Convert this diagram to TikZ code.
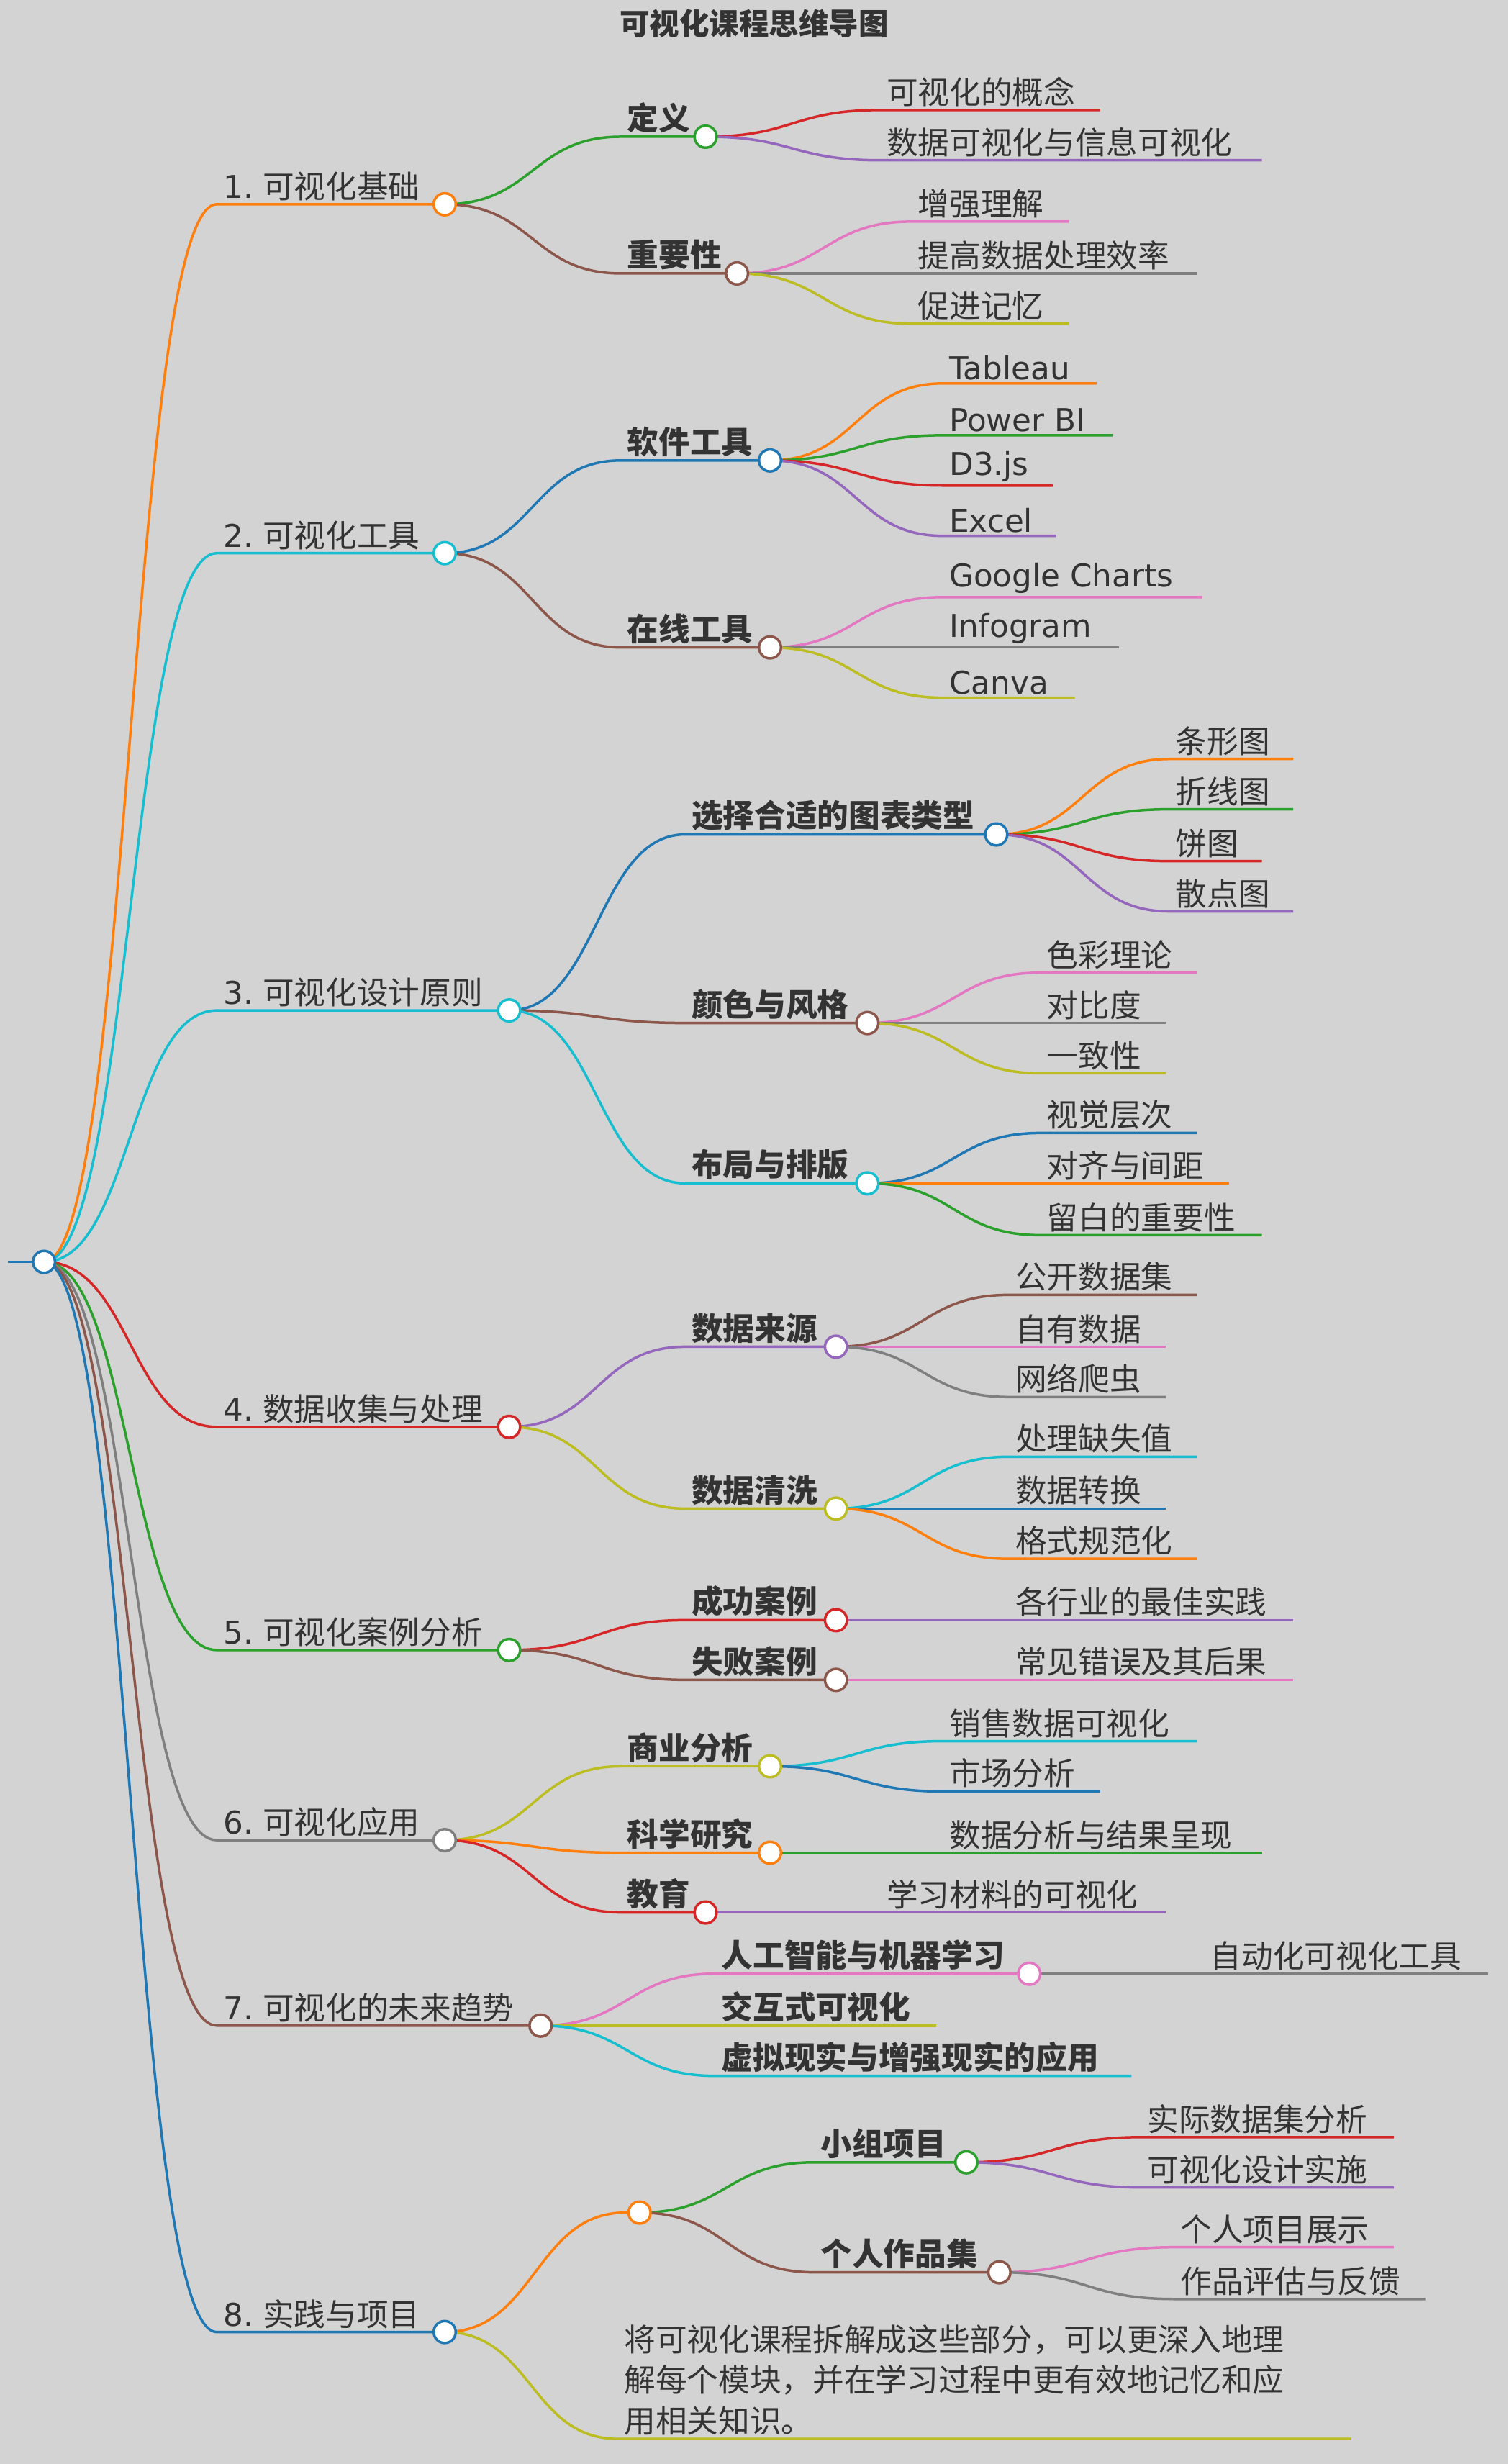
\documentclass[tikz,border=0pt]{standalone}
\usepackage{fontspec}
\usetikzlibrary{calc}
\setmainfont{Noto Sans CJK SC}
\newfontfamily\lat{DejaVu Sans}
\definecolor{cB}{HTML}{1F77B4}\definecolor{cO}{HTML}{FF7F0E}\definecolor{cG}{HTML}{2CA02C}
\definecolor{cR}{HTML}{D62728}\definecolor{cP}{HTML}{9467BD}\definecolor{cBr}{HTML}{8C564B}
\definecolor{cPk}{HTML}{E377C2}\definecolor{cGy}{HTML}{7F7F7F}\definecolor{cOl}{HTML}{BCBD22}
\definecolor{cC}{HTML}{17BECF}\definecolor{bg}{HTML}{D3D3D3}\definecolor{tx}{HTML}{333333}
\newcommand\mmb[8]{%
 \coordinate (#2s) at (#3,#4); \coordinate (#2) at (#5,#4);
 \draw[#6,line width=1.6pt] let \p1=(#1), \p2=(#2s), \p3=($(#1)!.5!(#2s)$) in
   (\p1) .. controls (\x3,\y1) and (\x3,\y2) .. (\p2) -- (#2);
 \node[lbl,font=\fontsize{20}{23}\selectfont#8] at ([xshift=3pt,yshift=1pt]#2s) {#7};}
\newcommand\mmc[2]{\fill[white,draw=#2,line width=1.6pt] (#1) circle (7);}
\begin{document}
\begin{tikzpicture}[x=1pt,y=-1pt,lbl/.style={anchor=south west,inner sep=1pt,text=tx}]
\fill[bg] (0,0) rectangle (960,1568);
\useasboundingbox (0,0) rectangle (960,1568);
\node[text=tx,font=\fontsize{19}{22}\selectfont\bfseries] (title) at (480,15) {可视化课程思维导图};
\coordinate (root) at (28,803);
\coordinate (rl) at (5,803);
\draw[cB,line width=1.6pt] (rl) -- (root);
% level 1
\mmb{root}{a}{138}{130}{283}{cO}{{\lat 1.} 可视化基础}{}
\mmb{root}{b}{138}{352}{283}{cC}{{\lat 2.} 可视化工具}{}
\mmb{root}{c}{138}{643}{324}{cC}{{\lat 3.} 可视化设计原则}{}
\mmb{root}{d}{138}{908}{324}{cR}{{\lat 4.} 数据收集与处理}{}
\mmb{root}{e}{138}{1050}{324}{cG}{{\lat 5.} 可视化案例分析}{}
\mmb{root}{f}{138}{1171}{283}{cGy}{{\lat 6.} 可视化应用}{}
\mmb{root}{g}{138}{1289}{344}{cBr}{{\lat 7.} 可视化的未来趋势}{}
\mmb{root}{h}{138}{1484}{283}{cB}{{\lat 8.} 实践与项目}{}
% 1
\mmb{a}{a1}{395}{87}{449}{cG}{定义}{\bfseries}
\mmb{a}{a2}{395}{174}{469}{cBr}{重要性}{\bfseries}
\mmb{a1}{a11}{560}{70}{700}{cR}{可视化的概念}{}
\mmb{a1}{a12}{560}{102}{803}{cP}{数据可视化与信息可视化}{}
\mmb{a2}{a21}{580}{141}{680}{cPk}{增强理解}{}
\mmb{a2}{a22}{580}{174}{762}{cGy}{提高数据处理效率}{}
\mmb{a2}{a23}{580}{206}{680}{cOl}{促进记忆}{}
% 2
\mmb{b}{b1}{395}{293}{490}{cB}{软件工具}{\bfseries}
\mmb{b}{b2}{395}{412}{490}{cBr}{在线工具}{\bfseries}
\mmb{b1}{b11}{600}{244}{698}{cO}{Tableau}{\lat}
\mmb{b1}{b12}{600}{277}{708}{cG}{Power BI}{\lat}
\mmb{b1}{b13}{600}{309}{670}{cR}{D3.js}{\lat}
\mmb{b1}{b14}{600}{341}{672}{cP}{Excel}{\lat}
\mmb{b2}{b21}{600}{380}{765}{cPk}{Google Charts}{\lat}
\mmb{b2}{b22}{600}{412}{712}{cGy}{Infogram}{\lat}
\mmb{b2}{b23}{600}{444}{684}{cOl}{Canva}{\lat}
% 3
\mmb{c}{c1}{436}{531}{634}{cB}{选择合适的图表类型}{\bfseries}
\mmb{c}{c2}{436}{651}{552}{cBr}{颜色与风格}{\bfseries}
\mmb{c}{c3}{436}{753}{552}{cC}{布局与排版}{\bfseries}
\mmb{c1}{c11}{744}{483}{823}{cO}{条形图}{}
\mmb{c1}{c12}{744}{515}{823}{cG}{折线图}{}
\mmb{c1}{c13}{744}{548}{803}{cR}{饼图}{}
\mmb{c1}{c14}{744}{580}{823}{cP}{散点图}{}
\mmb{c2}{c21}{662}{619}{762}{cPk}{色彩理论}{}
\mmb{c2}{c22}{662}{651}{742}{cGy}{对比度}{}
\mmb{c2}{c23}{662}{683}{742}{cOl}{一致性}{}
\mmb{c3}{c31}{662}{721}{762}{cB}{视觉层次}{}
\mmb{c3}{c32}{662}{753}{782}{cO}{对齐与间距}{}
\mmb{c3}{c33}{662}{786}{803}{cG}{留白的重要性}{}
% 4
\mmb{d}{d1}{436}{857}{532}{cP}{数据来源}{\bfseries}
\mmb{d}{d2}{436}{960}{532}{cOl}{数据清洗}{\bfseries}
\mmb{d1}{d11}{642}{824}{762}{cBr}{公开数据集}{}
\mmb{d1}{d12}{642}{857}{742}{cPk}{自有数据}{}
\mmb{d1}{d13}{642}{889}{742}{cGy}{网络爬虫}{}
\mmb{d2}{d21}{642}{927}{762}{cC}{处理缺失值}{}
\mmb{d2}{d22}{642}{960}{742}{cB}{数据转换}{}
\mmb{d2}{d23}{642}{992}{762}{cO}{格式规范化}{}
% 5
\mmb{e}{e1}{436}{1031}{532}{cR}{成功案例}{\bfseries}
\mmb{e}{e2}{436}{1069}{532}{cBr}{失败案例}{\bfseries}
\mmb{e1}{e11}{642}{1031}{823}{cP}{各行业的最佳实践}{}
\mmb{e2}{e21}{642}{1069}{823}{cPk}{常见错误及其后果}{}
% 6
\mmb{f}{f1}{395}{1124}{490}{cOl}{商业分析}{\bfseries}
\mmb{f}{f2}{395}{1179}{490}{cO}{科学研究}{\bfseries}
\mmb{f}{f3}{395}{1217}{449}{cR}{教育}{\bfseries}
\mmb{f1}{f11}{600}{1108}{762}{cC}{销售数据可视化}{}
\mmb{f1}{f12}{600}{1140}{700}{cB}{市场分析}{}
\mmb{f2}{f21}{600}{1179}{803}{cG}{数据分析与结果呈现}{}
\mmb{f3}{f31}{560}{1217}{742}{cP}{学习材料的可视化}{}
% 7
\mmb{g}{g1}{455}{1256}{655}{cPk}{人工智能与机器学习}{\bfseries}
\mmb{g}{g2}{455}{1289}{596}{cOl}{交互式可视化}{\bfseries}
\mmb{g}{g3}{455}{1321}{720}{cC}{虚拟现实与增强现实的应用}{\bfseries}
\mmb{g1}{g11}{766}{1256}{947}{cGy}{自动化可视化工具}{}
% 8
\mmb{h}{h1}{398}{1408}{407}{cO}{}{}
\mmb{h1}{h11}{518}{1376}{615}{cG}{小组项目}{\bfseries}
\mmb{h1}{h12}{518}{1446}{636}{cBr}{个人作品集}{\bfseries}
\mmb{h11}{h111}{726}{1360}{887}{cR}{实际数据集分析}{}
\mmb{h11}{h112}{726}{1392}{887}{cP}{可视化设计实施}{}
\mmb{h12}{h121}{747}{1430}{887}{cPk}{个人项目展示}{}
\mmb{h12}{h122}{747}{1463}{907}{cGy}{作品评估与反馈}{}
\mmb{h}{h2}{393}{1552}{860}{cOl}{\parbox[b]{460pt}{\baselineskip=26pt 将可视化课程拆解成这些部分，可以更深入地理\\解每个模块，并在学习过程中更有效地记忆和应\\用相关知识。}}{}
% circles
\mmc{root}{cB}
\mmc{a}{cO}\mmc{b}{cC}\mmc{c}{cC}\mmc{d}{cR}\mmc{e}{cG}\mmc{f}{cGy}\mmc{g}{cBr}\mmc{h}{cB}
\mmc{a1}{cG}\mmc{a2}{cBr}\mmc{b1}{cB}\mmc{b2}{cBr}
\mmc{c1}{cB}\mmc{c2}{cBr}\mmc{c3}{cC}\mmc{d1}{cP}\mmc{d2}{cOl}
\mmc{e1}{cR}\mmc{e2}{cBr}\mmc{f1}{cOl}\mmc{f2}{cO}\mmc{f3}{cR}
\mmc{g1}{cPk}\mmc{h1}{cO}\mmc{h11}{cG}\mmc{h12}{cBr}
\end{tikzpicture}
\end{document}
